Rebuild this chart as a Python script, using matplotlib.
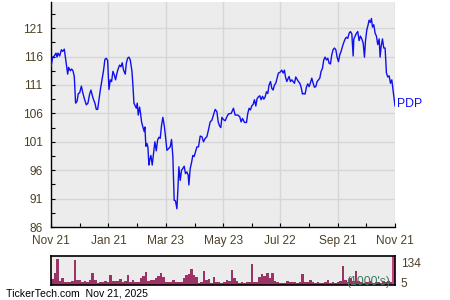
import matplotlib
matplotlib.use("Agg")
import matplotlib.pyplot as plt
import matplotlib.transforms as mtransforms
import numpy as np

# ---- data ----
days = [0, 1.8, 3.5, 5.3, 6.4, 7.4, 9.2, 11.0, 12.4, 14.1,
        15.9, 17.7, 18.7, 20.5, 21.9, 23.3, 24.7, 26.1, 27.6, 29.0,
        30.4, 32.2, 33.9, 35.7, 37.5, 39.2, 41.0, 42.4, 44.2, 45.2,
        46.6, 48.1, 49.5, 50.9, 52.3, 54.1, 55.8, 57.2, 58.7, 60.1,
        61.5, 62.9, 64.3, 65.7, 67.1, 68.5, 70.0, 71.4, 72.8, 74.2,
        75.6, 77.0, 78.8, 79.9, 81.3, 82.7, 84.1, 85.9, 86.9, 88.0,
        89.4, 90.5, 91.5, 92.6, 94.0, 95.0, 96.1, 97.5, 98.9, 99.6,
        100.7, 101.8, 102.8, 103.9, 104.9, 106.0, 107.4, 108.8, 110.2, 111.7,
        113.1, 114.5, 115.9, 117.3, 118.7, 120.1, 121.5, 123.0, 124.7, 126.5,
        127.9, 129.3, 130.7, 132.1, 133.6, 134.6, 135.7, 137.1, 138.5, 139.9,
        141.3, 142.7, 144.2, 145.6, 146.3, 147.7, 149.1, 150.5, 151.9, 153.3,
        154.8, 156.5, 158.3, 160.1, 161.8, 163.6, 165.4, 167.1, 168.9, 170.7,
        172.4, 174.2, 176.0, 177.4, 178.8, 180.2, 181.3, 183.0,
        184.8, 186.6, 188.3, 191.2, 193.6, 195.4, 198.2, 200.3, 201.7, 203.2,
        205.3, 207.4, 208.8, 210.2, 211.6, 213.0, 214.5, 215.9, 217.3, 218.7,
        220.1, 221.5, 222.9, 224.4, 225.8, 227.2, 228.6, 230.0, 231.4, 232.9,
        234.3, 235.7, 237.1, 238.5, 239.9, 241.3, 242.8, 244.9, 246.3, 247.7,
        248.8, 250.2, 251.2, 252.6, 254.0, 255.5, 256.9, 258.3, 259.7, 261.1,
        262.5, 264.0, 265.4, 266.8, 268.2, 269.6, 271.0, 272.4, 273.9, 275.3,
        276.7, 278.1, 279.5, 280.9, 282.4, 283.8, 285.2, 286.6, 288.0, 289.4,
        290.8, 292.3, 293.7, 295.1, 296.5, 297.9, 299.3, 300.8, 302.2, 303.6,
        305.0, 306.4, 307.8, 309.3, 310.7, 312.1, 313.5, 314.9, 316.3, 317.7,
        319.2, 320.6, 321.3, 322.7, 324.1, 325.5, 326.9, 328.3, 329.8, 331.2,
        332.6, 333.7, 335.1, 336.5, 337.5, 338.9, 340.0, 341.1, 342.5, 343.9,
        345.3, 346.7, 348.2, 349.2, 350.3, 351.7, 353.1, 354.5, 355.9, 357.4,
        358.8, 360.2, 361.6, 362.7, 364.1, 365.0]

closes = [114.2, 115.9, 116.1, 116.6, 115.9, 116.6, 116.1, 117.2, 116.9, 117.3,
          115.1, 112.9, 114.1, 113.5, 113.8, 113.5, 112.5, 107.8, 108.1, 109.5,
          109.6, 110.8, 109.5, 108.4, 107.5, 107.8, 109.4, 110.1, 108.9, 108.4,
          107.8, 106.7, 106.7, 108.4, 110.1, 111.9, 113.6, 115.5, 115.7, 115.3,
          110.2, 111.9, 111.6, 113.4, 112.8, 111.9, 113.1, 113.9, 114.5, 114.2,
          114.9, 113.6, 112.9, 114.8, 115.7, 115.9, 115.4, 113.4, 111.0, 107.8,
          107.3, 106.9, 107.8, 105.7, 107.1, 106.0, 104.5, 103.6, 102.8, 103.6,
          100.2, 100.7, 100.1, 96.9, 97.9, 98.6, 96.9, 98.9, 101.0, 99.4,
          101.3, 101.8, 101.6, 103.9, 105.3, 103.9, 101.9, 99.5, 99.8, 100.1,
          101.4, 98.4, 90.7, 90.6, 89.2, 92.5, 96.6, 94.2, 96.0, 96.3,
          96.7, 95.4, 95.7, 95.1, 93.4, 96.3, 97.3, 98.6, 98.4, 99.2,
          100.1, 100.1, 102.0, 101.9, 101.0, 101.6, 101.9, 103.1, 104.5, 104.8,
          105.7, 106.7, 106.3, 104.5, 103.8, 103.5, 105.3, 104.9,
          104.7, 105.4, 105.9, 106.0, 106.9, 105.7, 105.7, 105.4, 104.5, 105.1,
          104.4, 104.4, 106.0, 106.9, 106.6, 107.3, 107.6, 108.4, 107.3, 108.6,
          108.9, 109.1, 108.4, 109.0, 108.5, 108.9, 109.8, 109.5, 111.0, 111.6,
          110.4, 110.1, 111.0, 111.3, 112.2, 113.1, 113.2, 113.6, 113.1, 113.6,
          112.4, 111.6, 112.0, 112.5, 111.6, 111.9, 111.6, 111.3, 112.4, 112.0,
          111.6, 111.3, 110.6, 109.4, 109.5, 109.4, 110.6, 111.2, 110.7, 111.4,
          112.2, 111.3, 110.6, 110.7, 111.6, 111.9, 112.2, 113.4, 113.9, 115.4,
          115.9, 115.4, 115.7, 114.8, 114.7, 116.3, 117.2, 117.5, 117.2, 115.9,
          115.1, 116.3, 116.9, 117.8, 118.5, 119.1, 119.4, 119.2, 120.1, 120.4,
          120.0, 116.1, 119.1, 119.6, 120.1, 120.4, 118.8, 119.6, 119.1, 118.4,
          115.9, 118.8, 120.7, 121.6, 122.4, 122.0, 122.7, 121.2, 121.6, 120.1,
          119.6, 118.1, 119.1, 115.9, 117.8, 119.1, 117.5, 117.5, 113.1, 112.4,
          112.6, 111.3, 111.9, 110.4, 108.4, 107.3]

volumes = [26, 57, 120, 20, 31, 15, 12, 15, 18, 115, 23, 21, 12, 18, 12, 23, 57, 21,
           9, 15, 12, 18, 12, 46, 18, 18, 18, 28, 12, 18, 46, 15, 23, 12, 12, 31, 42,
           62, 18, 21, 21, 31, 43, 54, 38, 15, 12, 12, 21, 12,
           12, 15, 31, 46, 49, 74, 46, 38, 9, 12, 65, 21, 28, 9, 38, 15, 15, 9, 15,
           23, 18, 69, 31, 18, 9, 12, 9, 15, 12, 97, 12, 15, 38, 51, 43, 54, 31, 54,
           18, 12, 8, 8, 9, 18, 12, 12,
           12, 9, 12, 51, 15, 12, 23, 12, 9, 12, 9, 8, 12, 21, 9, 12, 9, 12, 18, 86,
           21, 15, 31, 18, 63, 18,
           12, 9, 15, 12, 20, 9, 12, 15, 10, 18, 12, 20, 15, 134]

ticker = "PDP"
x_tick_days = [0, 61, 122, 183, 243, 304, 365]
x_tick_labels = ["Nov 21", "Jan 21", "Mar 23", "May 23", "Jul 22", "Sep 21", "Nov 21"]
y_ticks = [86, 91, 96, 101, 106, 111, 116, 121]
vol_ticks = [5, 134]

# ---- style ----
FONT = "Liberation Sans"
TXT = "#4d4028"
BG = "#ececec"
GRID = "#d6d6d6"

fig = plt.figure(figsize=(4.5, 3.0), dpi=100)
fig.patch.set_facecolor("white")

ax = fig.add_axes([51 / 450, 1 - 227 / 300, 344 / 450, 225 / 300])
ax.set_facecolor(BG)
ax.plot(days, closes, color="#1010ee", lw=1.0, zorder=3)
ax.set_xlim(0, 365)
ax.set_ylim(86, 125.6)
ax.set_xticks(x_tick_days)
ax.set_xticklabels(x_tick_labels)
ax.set_xticks([(a + b) / 2 for a, b in zip(x_tick_days[:-1], x_tick_days[1:])], minor=True)
ax.set_yticks(y_ticks)
ax.set_yticks([v + 2.5 for v in y_ticks], minor=True)
ax.grid(True, which="major", color=GRID, lw=1.0, zorder=0)
ax.set_axisbelow(True)
for s in ["top", "right"]:
    ax.spines[s].set_visible(False)
for s in ["left", "bottom"]:
    ax.spines[s].set_color("black")
    ax.spines[s].set_linewidth(1.0)
ax.tick_params(which="both", direction="in", length=3, width=0.8, color="black",
               labelsize=8.6, labelcolor=TXT)
ax.tick_params(axis="x", pad=6)
ax.tick_params(axis="y", pad=6)
for lbl in ax.get_xticklabels() + ax.get_yticklabels():
    lbl.set_fontfamily(FONT)

ax.annotate(ticker, xy=(days[-1], closes[-1]), xytext=(1.5, 1.5),
            textcoords="offset points", ha="left", va="center",
            color="#1010ee", fontsize=8.8, fontfamily=FONT, annotation_clip=False)

# volume panel
vax = fig.add_axes([51 / 450, 1 - 285 / 300, 344 / 450, 29 / 300])
vax.set_facecolor(BG)
n = len(volumes)
w = 365 / n
xs = np.arange(n) * w
colors = ["#9b3464"] * (n - 1) + ["#c8407e"]
vax.bar(xs, volumes, width=w, align="edge", color=colors, lw=0, zorder=2)
vax.set_xlim(0, 365)
vax.set_ylim(0, max(volumes))
vax.set_xticks([])
vax.yaxis.tick_right()
vax.set_yticks(vol_ticks)
vax.set_yticklabels([str(v) for v in vol_ticks])
vax.tick_params(axis="y", length=0, pad=4, labelsize=8.6, labelcolor=TXT)
for s in vax.spines.values():
    s.set_color("black")
    s.set_linewidth(1.2)
offsets = [1.5, -6.5]
for lbl, off in zip(vax.get_yticklabels(), offsets):
    lbl.set_fontfamily(FONT)
    lbl.set_transform(lbl.get_transform() +
                      mtransforms.ScaledTranslation(0, off / 100, fig.dpi_scale_trans))
vax.text(0.985, 0.1, "(1000's)", transform=vax.transAxes, ha="right", va="center",
         color="#3f7a5c", fontsize=8.8, fontfamily=FONT, zorder=5)

fig.text(6 / 450, 1 - 294 / 300, "TickerTech.com  Nov 21, 2025", ha="left", va="center",
         fontsize=7.6, fontfamily=FONT, color="black")

fig.savefig("out.png", dpi=100)
